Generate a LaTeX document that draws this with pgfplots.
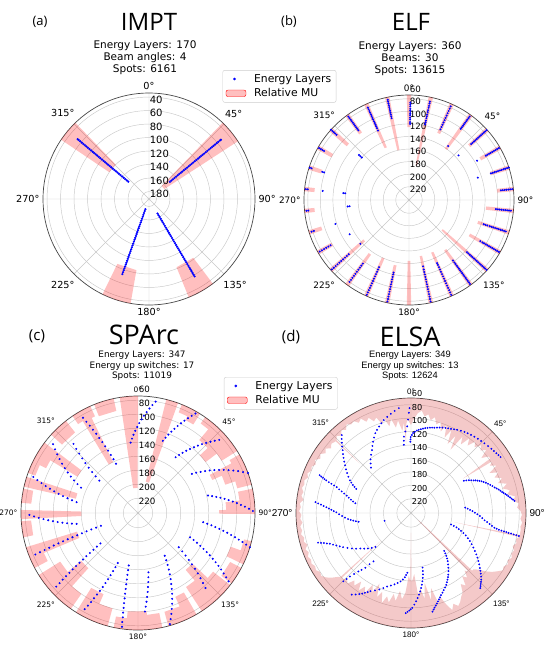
\documentclass[border=0pt]{standalone}
\usepackage{fontspec}
\setmainfont{DejaVu Sans}
\newfontfamily\titlefont{Open Sans}
\newfontfamily\arialfont{Liberation Sans}
\usepackage{pgfplots}
\pgfplotsset{compat=1.18}
\usepgfplotslibrary{polar}
\definecolor{gridc}{RGB}{200,200,200}
\definecolor{edgec}{RGB}{70,70,70}
\definecolor{dotblue}{RGB}{0,0,255}
\tikzset{rlab/.style={anchor=west, inner sep=0.6pt, yshift=-2.7pt}}
\pgfplotsset{
 base/.style={
  scale only axis, xmin=0, xmax=360, ymin=0,
  xtick={0,45,...,315},
  yticklabels={},
  xmajorgrids, ymajorgrids,
  grid style={draw=gridc, line width=0.45pt},
  axis line style={draw=edgec, line width=0.7pt},
  y axis line style={draw=none},
  major tick length=0pt,
  clip=false,
  x filter/.expression={90-x},
 },
 mu/.style={draw=none, fill=red, fill opacity=0.25},
 el/.style={only marks, mark=*, mark size=#1, color=dotblue},
 el/.default=0.8pt,
 mylegend/.style={legend style={at={#1}, anchor=north west, draw=black!20, rounded corners=2pt,
    font=\fontsize{10.8}{13}\selectfont, inner xsep=3pt, inner ysep=2pt, row sep=1pt,
    /tikz/every odd column/.append style={column sep=6pt}},
  legend cell align=left},
}
\begin{document}
\begin{tikzpicture}
\path[use as bounding box] (0pt,0pt) rectangle (550pt,-649pt);
% ---------------- titles
\node[font=\titlefont\fontsize{13}{15}\selectfont] at (40pt,-22pt) {(a)};
\node[font=\titlefont\fontsize{24}{28}\selectfont] at (149pt,-22pt) {IMPT};
\node[font=\titlefont\fontsize{13}{15}\selectfont] at (289pt,-22pt) {(b)};
\node[font=\titlefont\fontsize{24}{28}\selectfont] at (411pt,-22pt) {ELF};
\node[font=\titlefont\fontsize{15}{17}\selectfont] at (37pt,-336pt) {(c)};
\node[font=\titlefont\fontsize{27}{30}\selectfont] at (144pt,-335pt) {SPArc};
\node[font=\titlefont\fontsize{15}{17}\selectfont] at (291pt,-337pt) {(d)};
\node[font=\titlefont\fontsize{27}{30}\selectfont] at (410pt,-337pt) {ELSA};
\node[align=center, font=\fontsize{10.5}{12}\selectfont] at (145pt,-58pt) {Energy Layers: 170\\Beam angles: 4\\Spots: 6161};
\node[align=center, font=\fontsize{10.5}{12}\selectfont] at (410pt,-59pt) {Energy Layers: 360\\Beams: 30\\Spots: 13615};
\node[align=center, font=\fontsize{8.9}{10.5}\selectfont] at (142pt,-366pt) {Energy Layers: 347\\Energy up switches: 17\\Spots: 11019};
\node[align=center, font=\arialfont\fontsize{9.3}{10.5}\selectfont] at (410pt,-366pt) {Energy Layers: 349\\Energy up switches: 13\\Spots: 12624};

% ================= (a) IMPT
\begin{polaraxis}[base, at={(149pt,-199pt)}, anchor=center, width=212pt, height=212pt,
  ymax=157, ytick={11,31,51,71,91,111,131,151},
  y filter/.expression={191-y},
  xticklabels={90°,45°,0°,315°,270°,225°,180°,135°},
  xticklabel style={font=\fontsize{9.7}{11}\selectfont},
  mylegend={(0.847,1.108)}]
\addlegendimage{only marks, mark=*, mark size=1.1pt, color=dotblue}
\addlegendentry{Energy Layers}
\addlegendimage{legend image code/.code={\fill[red, fill opacity=0.25] (0pt,-3pt) rectangle (20pt,3.5pt);}}
\addlegendentry{Relative MU}
\addplot[mu] coordinates {(44,34)(44,164)(57,164)(57,34)(50.5,34)};
\addplot[mu] coordinates {(304,34)(304,120)(316,120)(316,34)(310,34)};
\addplot[mu] coordinates {(190,34)(190,84)(206,84)(206,34)(198,34)};
\addplot[mu] coordinates {(143,34)(143,82)(158,82)(158,34)(150.5,34)};
\addplot[el=0.9pt] coordinates {(50.5,151)(50.5,148)(50.5,145)(50.5,142)(50.5,139)(50.5,136)(50.5,133)(50.5,130)(50.5,127)(50.5,124)(50.5,121)(50.5,118)(50.5,115)(50.5,112)(50.5,109)(50.5,106)(50.5,103)(50.5,100)(50.5,97)(50.5,94)(50.5,91)(50.5,88)(50.5,85)(50.5,82)(50.5,79)(50.5,76)(50.5,73)(50.5,70)(50.5,67)(50.5,64)(50.5,61)(50.5,58)(50.5,55)(50.5,53)
(310,151)(310,148)(310,145)(310,142)(310,139)(310,136)(310,133)(310,130)(310,127)(310,124)(310,121)(310,118)(310,115)(310,112)(310,109)(310,106)(310,103)(310,100)(310,97)(310,94)(310,91)(310,88)(310,85)(310,82)(310,79)(310,76)(310,73)(310,70)(310,67)(310,64)(310,61)(310,58)(310,55)(310,53)
(199.5,175)(199.5,172)(199.5,169)(199.5,166)(199.5,163)(199.5,160)(199.5,157)(199.5,154)(199.5,151)(199.5,148)(199.5,145)(199.5,142)(199.5,139)(199.5,136)(199.5,133)(199.5,130)(199.5,127)(199.5,124)(199.5,121)(199.5,118)(199.5,115)(199.5,112)(199.5,109)(199.5,106)(199.5,103)(199.5,100)(199.5,97)(199.5,94)(199.5,91)(199.5,88)(199.5,85)(199.5,82)(199.5,79)(199.5,76)(199.5,73)
(149.5,166)(149.5,163)(149.5,160)(149.5,157)(149.5,154)(149.5,151)(149.5,148)(149.5,145)(149.5,142)(149.5,139)(149.5,136)(149.5,133)(149.5,130)(149.5,127)(149.5,124)(149.5,121)(149.5,118)(149.5,115)(149.5,112)(149.5,109)(149.5,106)(149.5,103)(149.5,100)(149.5,97)(149.5,94)(149.5,91)(149.5,88)(149.5,85)(149.5,82)(149.5,79)(149.5,76)(149.5,73)(149.5,70)(149.5,67)(149.5,64)(149.5,61)(149.5,58)};
\begin{scope}[font=\fontsize{10}{12}\selectfont]
\node[rlab] at (axis cs:90,151) {40};
\node[rlab] at (axis cs:90,131) {60};
\node[rlab] at (axis cs:90,111) {80};
\node[rlab] at (axis cs:90,91) {100};
\node[rlab] at (axis cs:90,71) {120};
\node[rlab] at (axis cs:90,51) {140};
\node[rlab] at (axis cs:90,31) {160};
\node[rlab] at (axis cs:90,11) {180};
\end{scope}
\end{polaraxis}

% ================= (b) ELF
\begin{polaraxis}[base, at={(409pt,-200pt)}, anchor=center, width=210pt, height=210pt,
  ymax=167, ytick={21,41,61,81,101,121,141,161},
  y filter/.expression={241-y},
  xticklabels={90°,45°,0°,315°,270°,225°,180°,135°},
  xticklabel style={font=\fontsize{8.9}{10}\selectfont}]
\addplot[mu] coordinates {(-1.2,74)(-1.2,125)(1.2,125)(1.2,74)};
\addplot[mu] coordinates {(10.8,74)(10.8,185)(13.2,185)(13.2,74)};
\addplot[mu] coordinates {(22.8,74)(22.8,125)(25.2,125)(25.2,74)};
\addplot[mu] coordinates {(34.8,74)(34.8,141)(37.2,141)(37.2,74)};
\addplot[mu] coordinates {(46.8,74)(46.8,112)(49.2,112)(49.2,74)};
\addplot[mu] coordinates {(58.8,74)(58.8,110)(61.2,110)(61.2,74)};
\addplot[mu] coordinates {(70.8,74)(70.8,105)(73.2,105)(73.2,74)};
\addplot[mu] coordinates {(82.8,74)(82.8,100)(85.2,100)(85.2,74)};
\addplot[mu] coordinates {(94.8,74)(94.8,118)(97.2,118)(97.2,74)};
\addplot[mu] coordinates {(106.8,74)(106.8,126)(109.2,126)(109.2,74)};
\addplot[mu] coordinates {(118.8,74)(118.8,130)(121.2,130)(121.2,74)};
\addplot[mu] coordinates {(130.8,74)(130.8,170)(133.2,170)(133.2,74)};
\addplot[mu] coordinates {(142.8,74)(142.8,143)(145.2,143)(145.2,74)};
\addplot[mu] coordinates {(154.8,74)(154.8,150)(157.2,150)(157.2,74)};
\addplot[mu] coordinates {(166.8,74)(166.8,150)(169.2,150)(169.2,74)};
\addplot[mu] coordinates {(178.8,74)(178.8,144)(181.2,144)(181.2,74)};
\addplot[mu] coordinates {(190.8,74)(190.8,135)(193.2,135)(193.2,74)};
\addplot[mu] coordinates {(202.8,74)(202.8,140)(205.2,140)(205.2,74)};
\addplot[mu] coordinates {(214.8,74)(214.8,135)(217.2,135)(217.2,74)};
\addplot[mu] coordinates {(226.8,74)(226.8,145)(229.2,145)(229.2,74)};
\addplot[mu] coordinates {(238.8,74)(238.8,100)(241.2,100)(241.2,74)};
\addplot[mu] coordinates {(250.8,74)(250.8,95)(253.2,95)(253.2,74)};
\addplot[mu] coordinates {(262.8,74)(262.8,90)(265.2,90)(265.2,74)};
\addplot[mu] coordinates {(274.8,74)(274.8,90)(277.2,90)(277.2,74)};
\addplot[mu] coordinates {(286.8,74)(286.8,95)(289.2,95)(289.2,74)};
\addplot[mu] coordinates {(298.8,74)(298.8,100)(301.2,100)(301.2,74)};
\addplot[mu] coordinates {(310.8,74)(310.8,110)(313.2,110)(313.2,74)};
\addplot[mu] coordinates {(322.8,74)(322.8,110)(325.2,110)(325.2,74)};
\addplot[mu] coordinates {(334.8,74)(334.8,150)(337.2,150)(337.2,74)};
\addplot[mu] coordinates {(346.8,74)(346.8,160)(349.2,160)(349.2,74)};
\addplot[el] coordinates {(0.8,86)(0.8,89)(0.8,92)(0.8,96)(0.8,99)(0.8,103)(0.8,106)(0.8,110)(0.8,113)(0.8,117)(0.8,120)
(12,81)(12,84)(12,88)(12,91)(12,95)(12,98)(12,102)(12,105)(12,108)(12,112)(12,115)(12,118)
(24,78)(24,82)(24,86)(24,90)(24,94)(24,98)(24,102)(24,106)(24,110)(24,114)(24,118)
(36,77)(36,80)(36,83)(36,86)(36,89)(36,92)(36,95)(36,98)(36,101)(36,135)
(48,75)(48,78)(48,81)(48,84)(48,87)(48,90)(48,93)(48,96)(48,99)(48,102)(48,105)(48,108)(48,135)
(60,76)(60,79)(60,82)(60,85)(60,88)(60,91)(60,94)(60,97)(60,100)(60,116)
(72,74)(72,77)(72,80)(72,83)(72,86)(72,89)(72,92)(72,95)(72,98)(72,101)(72,104)(72,126)
(84,76)(84,79)(84,82)(84,85)(84,88)(84,91)(84,94)
(96,78)(96,81)(96,84)(96,87)(96,90)(96,93)(96,96)(96,99)(96,102)
(108,79)(108,82)(108,85)(108,88)(108,91)(108,94)(108,97)(108,100)(108,103)(108,106)(108,110)(108,113)(108,116)
(120,76)(120,79)(120,82)(120,85)(120,88)(120,91)(120,94)(120,97)(120,100)(120,103)(120,106)(120,110)
(132,75)(132,78)(132,81)(132,84)(132,87)(132,90)(132,93)(132,96)(132,99)(132,102)(132,105)(132,108)(132,111)(132,114)(132,117)
(144,76)(144,79)(144,82)(144,85)(144,88)(144,91)(144,94)(144,97)(144,100)(144,103)(144,106)(144,109)(144,112)(144,115)(144,118)(144,122)
(156,76)(156,80)(156,84)(156,88)(156,92)(156,96)(156,100)(156,104)(156,108)(156,112)(156,116)(156,120)(156,124)(156,128)(156,131)
(168,76)(168,80)(168,84)(168,88)(168,92)(168,96)(168,100)(168,104)(168,108)(168,112)(168,116)(168,120)(168,124)(168,128)(168,133)
(192,76)(192,80)(192,84)(192,88)(192,92)(192,96)(192,100)(192,104)(192,108)(192,112)(192,116)(192,120)(192,123)
(204,76)(204,80)(204,84)(204,88)(204,92)(204,96)(204,100)(204,104)(204,108)(204,112)(204,116)(204,120)(204,124)
(216,80)(216,84)(216,88)(216,92)(216,96)(216,100)(216,104)(216,108)(216,112)(216,116)
(228,76)(228,80)(228,84)(228,88)(228,92)(228,96)(228,100)(228,104)(228,108)(228,112)(228,137)
(240,77)(240,81)(240,85)(240,89)(240,93)(240,97)(240,132)
(252,78)(252,82)(252,118)
(264,77)(264,80)(264,143)(264,146)
(276,76)(276,79)(276,103)(276,136)(276,139)
(288,75)(288,78)(288,96)(288,99)
(300,76)(300,79)(300,82)(300,85)
(312,74)(312,77)(312,80)(312,83)(312,86)(312,134)(312,137)(312,140)
(324,77)(324,80)(324,83)(324,86)(324,89)(324,92)(324,95)(324,98)(324,101)(324,104)
(336,80)(336,83)(336,86)(336,89)(336,92)(336,95)(336,98)(336,101)(336,104)(336,107)(336,110)(336,113)(336,116)(336,120)
(348,78)(348,81)(348,84)(348,87)(348,90)(348,93)(348,96)(348,99)(348,102)(348,105)(348,108)};
\begin{scope}[font=\fontsize{8.7}{10}\selectfont]
\node[rlab] at (axis cs:90,181) {60};
\node[rlab] at (axis cs:90,161) {80};
\node[rlab] at (axis cs:90,141) {100};
\node[rlab] at (axis cs:90,121) {120};
\node[rlab] at (axis cs:90,101) {140};
\node[rlab] at (axis cs:90,81) {160};
\node[rlab] at (axis cs:90,61) {180};
\node[rlab] at (axis cs:90,41) {200};
\node[rlab] at (axis cs:90,21) {220};
\end{scope}
\end{polaraxis}

% ================= (c) SPArc
\begin{polaraxis}[base, at={(138pt,-513pt)}, anchor=center, width=234pt, height=234pt,
  ymax=167, ytick={21,41,61,81,101,121,141,161},
  y filter/.expression={241-y},
  xticklabels={90°,45°,0°,315°,270°,225°,180°,135°},
  xticklabel style={font=\fontsize{7.5}{9}\selectfont},
  mylegend={(0.867,1.081)}]
\addlegendimage{only marks, mark=*, mark size=1.1pt, color=dotblue}
\addlegendentry{Energy Layers}
\addlegendimage{legend image code/.code={\fill[red, fill opacity=0.25] (0pt,-3pt) rectangle (20pt,3.5pt);}}
\addlegendentry{Relative MU}
\addplot[mu] coordinates {(351,74)(349,205)(359,205)(360,74)(355,74)};
\addplot[mu] coordinates {(14,74)(14,195)(20,195)(20,74)};
\addplot[mu] coordinates {(22,74)(22,86)(27,86)(27,92)(32,92)(32,74)(27,74)};
\addplot[mu] coordinates {(35,74)(35,85)(40,85)(40,105)(47,105)(47,120)(53,120)(53,100)(58,100)(58,74)(52,74)(46,74)(40,74)};
\addplot[mu] coordinates {(60,74)(60,90)(62,90)(62,125)(66,125)(66,110)(72,110)(72,95)(76,95)(76,74)(70,74)(65,74)};
\addplot[mu] coordinates {(78,74)(78,95)(83,95)(83,115)(88,115)(88,125)(90.5,125)(90.5,74)(85,74)(80,74)};
\addplot[mu] coordinates {(104,74)(104,85)(110,85)(110,100)(116,100)(116,74)(110,74)};
\addplot[mu] coordinates {(118,74)(118,92)(127,92)(127,74)(122,74)};
\addplot[mu] coordinates {(128,74)(128,105)(133,105)(133,135)(140,135)(140,115)(147,115)(147,74)(142,74)(137,74)(132,74)};
\addplot[mu] coordinates {(150,74)(150,110)(156,110)(156,95)(165,95)(165,74)(160,74)(155,74)};
\addplot[mu] coordinates {(168,74)(168,95)(175,95)(175,100)(186,100)(186,90)(192,90)(192,74)(187,74)(182,74)(177,74)(172,74)};
\addplot[mu] coordinates {(195,74)(195,100)(203,100)(203,115)(212,115)(212,74)(207,74)(202,74)(198,74)};
\addplot[mu] coordinates {(215,74)(215,100)(222,100)(222,135)(230,135)(230,110)(238,110)(238,74)(233,74)(228,74)(223,74)(219,74)};
\addplot[mu] coordinates {(242,74)(242,95)(247,95)(247,150)(253,150)(253,74)(248,74)};
\addplot[mu] coordinates {(258,74)(258,88)(266,88)(266,74)(262,74)};
\addplot[mu] coordinates {(267,74)(267,160)(271.5,160)(271.5,74)};
\addplot[mu] coordinates {(275,74)(275,88)(282,88)(282,74)(278,74)};
\addplot[mu] coordinates {(283,74)(283,150)(288,150)(288,74)};
\addplot[mu] coordinates {(290,74)(290,85)(296,85)(296,95)(301,95)(301,140)(307,140)(307,74)(302,74)(297,74)(293,74)};
\addplot[mu] coordinates {(312,74)(312,95)(322,95)(322,74)(317,74)};
\addplot[mu] coordinates {(326,74)(326,88)(329,88)(329,160)(334,160)(334,90)(336,90)(336,74)(331,74)};
\addplot[mu] coordinates {(338,74)(338,92)(348,92)(348,74)(343,74)};
\addplot[el] coordinates {
(354,140)(355.4,134.5)(356.7,129.1)(358.1,123.6)(359.5,118.2)(360.8,112.7)(362.2,107.3)(363.5,101.8)(364.9,96.4)(366.3,90.9)(367.6,85.5)(369,80)
(19,132)(20.1,126.5)(21.2,121)(22.3,115.5)(23.4,110)(24.5,104.5)(25.6,99)(26.7,93.5)(27.8,88)(28.9,82.5)(30,77)
(34,145)(35.3,139.5)(36.5,134.1)(37.8,128.6)(39.1,123.2)(40.4,117.7)(41.6,112.3)(42.9,106.8)(44.2,101.4)(45.5,95.9)(46.7,90.5)(48,85)
(54,146)(55.3,140)(56.7,134)(58,128)(59.3,122)(60.7,116)(62,110)(63.3,104)(64.7,98)(66,92)(67.3,86)(68.7,80)(70,74)
(76,138)(77.2,132.5)(78.4,126.9)(79.5,121.4)(80.7,115.8)(81.9,110.3)(83.1,104.7)(84.3,99.2)(85.5,93.6)(86.6,88.1)(87.8,82.5)(89,77)
(98,147)(98.8,140.9)(99.5,134.8)(100.3,128.8)(101,122.7)(101.8,116.6)(102.5,110.5)(103.3,104.4)(104,98.3)(104.8,92.3)(105.5,86.2)(106.3,80.1)(107,74)
(115,159)(115.9,152.8)(116.8,146.7)(117.8,140.5)(118.7,134.4)(119.6,128.2)(120.5,122.1)(121.5,115.9)(122.4,109.8)(123.3,103.6)(124.2,97.5)(125.2,91.3)(126.1,85.2)(127,79)
(130,165)(130.9,157.4)(131.8,149.9)(132.7,142.3)(133.6,134.8)(134.4,127.2)(135.3,119.7)(136.2,112.1)(137.1,104.6)(138,97)
(148,169)(149.1,162.4)(150.3,155.7)(151.4,149.1)(152.6,142.4)(153.7,135.8)(154.9,129.1)(156,122.5)(157.1,115.9)(158.3,109.2)(159.4,102.6)(160.6,95.9)(161.7,89.3)(162.9,82.6)(164,76)
(170,155)(170.8,148.1)(171.5,141.3)(172.3,134.4)(173,127.5)(173.8,120.6)(174.5,113.8)(175.3,106.9)(176,100)
(190,165)(189.8,158.2)(189.7,151.5)(189.5,144.7)(189.4,137.9)(189.2,131.2)(189.1,124.4)(188.9,117.6)(188.8,110.8)(188.6,104.1)(188.5,97.3)(188.3,90.5)(188.2,83.8)(188,77)
(202,164)(202.6,157.3)(203.2,150.7)(203.8,144)(204.3,137.3)(204.9,130.7)(205.5,124)(206.1,117.3)(206.7,110.7)(207.3,104)(207.8,97.3)(208.4,90.7)(209,84)
(231,172)(230.8,165.2)(230.5,158.5)(230.3,151.7)(230.1,144.9)(229.8,138.2)(229.6,131.4)(229.4,124.6)(229.2,117.8)(228.9,111.1)(228.7,104.3)(228.5,97.5)(228.2,90.8)(228,84)
(251,185)(250.8,177.7)(250.6,170.4)(250.4,163.1)(250.1,155.9)(249.9,148.6)(249.7,141.3)(249.5,134)(249.3,126.7)(249.1,119.4)(248.9,112.1)(248.6,104.9)(248.4,97.6)(248.2,90.3)(248,83)
(260,152)(260.9,145.4)(261.8,138.8)(262.7,132.2)(263.6,125.6)(264.5,119)(265.4,112.4)(266.3,105.8)(267.2,99.2)(268.1,92.6)(269,86)
(280,152)(280.9,145.1)(281.8,138.2)(282.7,131.3)(283.6,124.4)(284.5,117.5)(285.4,110.6)(286.3,103.7)(287.2,96.8)(288.1,89.9)(289,83)
(294,152)(295.5,145.3)(297,138.6)(298.5,131.9)(300,125.2)(301.5,118.5)(303,111.8)(304.5,105.1)(306,98.4)(307.5,91.7)(309,85)
(310,169)(310.9,161.1)(311.8,153.3)(312.6,145.4)(313.5,137.5)(314.4,129.6)(315.3,121.8)(316.1,113.9)(317,106)
(336,164)(335.5,156.7)(334.9,149.5)(334.4,142.2)(333.8,134.9)(333.3,127.6)(332.7,120.4)(332.2,113.1)(331.6,105.8)(331.1,98.5)(330.5,91.3)(330,84)};
\begin{scope}[font=\fontsize{8.7}{10}\selectfont]
\node[rlab] at (axis cs:90,181) {60};
\node[rlab] at (axis cs:90,161) {80};
\node[rlab] at (axis cs:90,141) {100};
\node[rlab] at (axis cs:90,121) {120};
\node[rlab] at (axis cs:90,101) {140};
\node[rlab] at (axis cs:90,81) {160};
\node[rlab] at (axis cs:90,61) {180};
\node[rlab] at (axis cs:90,41) {200};
\node[rlab] at (axis cs:90,21) {220};
\end{scope}
\end{polaraxis}

% ================= (d) ELSA
\begin{polaraxis}[base, at={(411pt,-513pt)}, anchor=center, width=230pt, height=230pt,
  ymax=171, ytick={21,41,61,81,101,121,141,161},
  y filter/.expression={241-y},
  xticklabels={{\fontsize{10}{12}\selectfont 90°},45°,0°,315°,{\fontsize{10}{12}\selectfont 270°},225°,180°,135°},
  xticklabel style={font=\arialfont\fontsize{8}{9.5}\selectfont}]
\addplot[draw=none, fill={rgb,255:red,215;green,60;blue,60}, fill opacity=0.28] coordinates {
(0,110)(2,100)(4,92)(6,88)(8,96)(10,92)(12,100)(14,94)(16,104)(18,98)(20,112)(22,100)(24,118)(26,104)(28,125)(30,108)(32,130)(34,104)(36,115)(38,100)(40,110)(42,98)(44,105)(46,96)(48,102)(50,95)(52,108)(54,98)(55.5,98)(56.5,148)(57.5,98)(59,104)(61,96)(63,110)(65,98)(67,106)(69,96)(71,104)(73,92)(75,100)(77,90)(79,95)(81,84)(83,88)(85,80)(87,83)(89,78)(91,76)(93,78)(95,75)(97,77)(99,76)(101.5,76)(102,175)(102.5,76)(104,80)(106,78)(108,82)(110,78)(112,80)(114,77)(116,81)(118,78)(120,82)(122,80)(124,86)(126,92)(128,100)(130,110)(132,116)(133.3,116)(133.5,225)(134,225)(134.3,116)(134.6,225)(135.2,225)(135.5,118)(137,124)(139,114)(141,120)(143,106)(145,112)(147,100)(149,96)(151,90)(153,86)(155,92)(157,84)(159,96)(161,110)(163,100)(165,125)(167,108)(169,135)(171,112)(173,128)(175,118)(177,150)(179,140)(179.6,140)(180,212)(180.6,140)(182,148)(184,122)(186,112)(188,124)(190,108)(192,118)(194,104)(196,112)(198,100)(200,116)(202,106)(204,126)(206,110)(208,120)(210,104)(212,112)(214,102)(216,115)(218,104)(220,110)(222,100)(224,104)(226,100)(226.8,100)(227.3,180)(227.8,100)(229,96)(231,88)(233,82)(235,78)(237,80)(239,76)(241,78)(243,75)(245,77)(247,74.5)(249,78)(251,75)(253,80)(255,76)(257,78)(259,74.5)(261,77)(263,75)(265,79)(267,76)(269,78)(271,74.5)(273,77)(275,75)(277,80)(279,76)(281,78)(283,74.5)(285,77)(287,75)(289,79)(291,76)(293,80)(295,78)(297,82)(299,78)(301,84)(303,80)(305,86)(307,82)(309,88)(311,84)(313,86)(313.6,86)(314,135)(314.4,86)(316,82)(318,86)(320,80)(322,84)(324,78)(326,82)(328,80)(330,86)(332,82)(334,90)(336,86)(338,94)(340,90)(342,102)(344,94)(346,108)(348,98)(350,112)(352,102)(354,118)(355.5,106)(356,138)(357,108)(358,102)(360,110)
(360,70)(355,70)(350,70)(345,70)(340,70)(335,70)(330,70)(325,70)(320,70)(315,70)(310,70)(305,70)(300,70)(295,70)(290,70)(285,70)(280,70)(275,70)(270,70)(265,70)(260,70)(255,70)(250,70)(245,70)(240,70)(235,70)(230,70)(225,70)(220,70)(215,70)(210,70)(205,70)(200,70)(195,70)(190,70)(185,70)(180,70)(175,70)(170,70)(165,70)(160,70)(155,70)(150,70)(145,70)(140,70)(135,70)(130,70)(125,70)(120,70)(115,70)(110,70)(105,70)(100,70)(95,70)(90,70)(85,70)(80,70)(75,70)(70,70)(65,70)(60,70)(55,70)(50,70)(45,70)(40,70)(35,70)(30,70)(25,70)(20,70)(15,70)(10,70)(5,70)(0,70)};
\addplot[el=0.7pt] coordinates {
(359.5,135)(359.6,131.5)(359.8,128)(360.6,125)(361.5,122)(362.7,120)(364,118)(365.3,116.7)(366.7,115.5)(368.1,114.2)(369.5,113)(371,112)(372.5,111)(373.9,110.2)(375.3,109.5)(376.9,108.2)(378.5,107)(380.2,105.7)(382,104.5)(383.7,103.5)(385.4,102.5)(387.2,101)(389,99.5)(391.2,98)(393.4,96.5)(395.4,95.5)(397.5,94.5)(399.7,93.5)(402,92.5)(404.2,91.5)(406.5,90.5)(409,89.2)(411.4,88)(413.2,87)(415,86)(416.5,85)(418,84)
(58.6,149)(59.5,145.5)(60.5,142)(61.5,139)(62.5,136)(63.2,133.5)(64,131)(64.9,128.5)(65.8,126)(66.9,123.5)(68,121)(69.2,118.5)(70.5,116)(71.7,113.5)(73,111)(74,108.5)(75,106)(76,104)(77,102)(77.8,100)(78.6,98)(79.4,96)(80.2,94)(81,92)(81.8,90)(82.5,88)(83.3,86)
(84.3,160)(85.6,156.5)(87,153)(88.3,149.5)(89.7,146)(91.1,142.2)(92.5,138.5)(94.1,134.7)(95.7,131)(96.8,127)(98,123)(99,119)(100,115)(100.4,111.5)(100.8,108)(101,104)(101.2,100)(101.3,96.5)(101.5,93)(101.6,89)(101.8,85)(101.9,81)(102,77)
(106,179)(106.8,174.5)(107.6,170)(108.6,166)(109.6,162)(110.9,157.5)(112.3,153)(113.9,148.5)(115.5,144)(117.2,139.5)(119,135)(120.7,130.5)(122.4,126)(123.9,122)(125.5,118)(127,114)(128.6,110)(129.8,106.7)(131,103.5)(132.2,100.2)(133.5,97)(134.5,95)(135.5,93)(136.4,91)(137.3,89)
(138.8,166)(139.6,162.2)(140.5,158.5)(141.6,154.7)(142.7,151)(144.2,146.7)(145.7,142.5)(147.2,138.2)(148.8,134)(150,131)(151.3,128)(152.6,125)(153.9,122)(155.4,119.2)(157,116.5)(158.4,113.7)(159.9,111)(161,108.5)(162,106)(163,103.5)(164,101)(165,98.5)(166,96)(166.8,93.5)(167.7,91)
(168,158)(168.5,153)(169,148)(169.7,143)(170.5,138)(171.4,133.2)(172.3,128.5)(173.3,123.7)(174.4,119)(175.5,114.2)(176.7,109.5)(177.9,104.7)(179.2,100)(180.1,98)(181,96)(182,94)(183,92)
(183.5,152)(184.5,148.5)(185.5,145)(187,141.5)(188.7,138)(190.8,135)(193,132)(195.5,129)(198,126)(200.2,122)(202.5,118)(205,114)(207.4,110)(208.7,107)(210,104)(211.2,101)(212.5,98)(214.2,94.5)(216,91)
(217.8,150)(219,143)(219.8,135)(221,129)(222,124)(223,117)(223.9,110)(224.3,104)(224.7,98)
(226.4,168)(228.4,163)(230.5,158)(232.7,153.5)(235,149)(237,143.7)(239,138.5)(241.2,133.2)(243.3,128)(244.9,124)(246.5,120)(247.9,116)(249.3,112)(250.1,108)(251,104)(251.6,100)(252.3,96)
(260.5,162)(261.5,158.2)(262.5,154.5)(263.5,150.7)(264.5,147)(266,142.7)(267.5,138.5)(269,134.2)(270.5,130)(271.4,126.2)(272.3,122.5)(273.1,118.7)(273.9,115)(274.6,110.7)(275.3,106.5)(275.9,102.2)(276.5,98)
(279.9,157)(281.2,153.2)(282.5,149.5)(283.8,145.7)(285.2,142)(286.2,137.5)(287.3,133)(288.2,128.5)(289.2,124)(289.7,119.5)(290.2,115)(290.6,110.5)(291,106)(291.4,103)(291.8,100)(292.1,97)(292.5,94)
(293.8,152)(294.8,148.5)(295.8,145)(297,141.5)(298.2,138)(300.1,133.5)(302,129)(303.9,124.5)(305.9,120)(307.6,115.7)(309.3,111.5)(310.9,107.2)(312.6,103)(314,98.7)(315.5,94.5)(316.9,90.2)(318.4,86)
(318.6,151)(320.8,146)(323,141)(325.6,136)(328.2,131)(330.1,126)(332,121)(333.9,116)(335.9,111)(337.8,107.5)(339.8,104)(341.7,100.5)(343.7,97)(346.1,93.7)(348.5,90.5)(350.9,87.2)(353.4,84)
(354,139)(354.3,133)(354.7,127)(356,119.5)(357.5,112)(358.2,102)(358.8,92)(359.2,85)
(253.6,200)};
\begin{scope}[font=\fontsize{8.2}{10}\selectfont]
\node[rlab] at (axis cs:90,181) {60};
\node[rlab] at (axis cs:90,161) {80};
\node[rlab] at (axis cs:90,141) {100};
\node[rlab] at (axis cs:90,121) {120};
\node[rlab] at (axis cs:90,101) {140};
\node[rlab] at (axis cs:90,81) {160};
\node[rlab] at (axis cs:90,61) {180};
\node[rlab] at (axis cs:90,41) {200};
\node[rlab] at (axis cs:90,21) {220};
\end{scope}
\end{polaraxis}
\end{tikzpicture}
\end{document}
